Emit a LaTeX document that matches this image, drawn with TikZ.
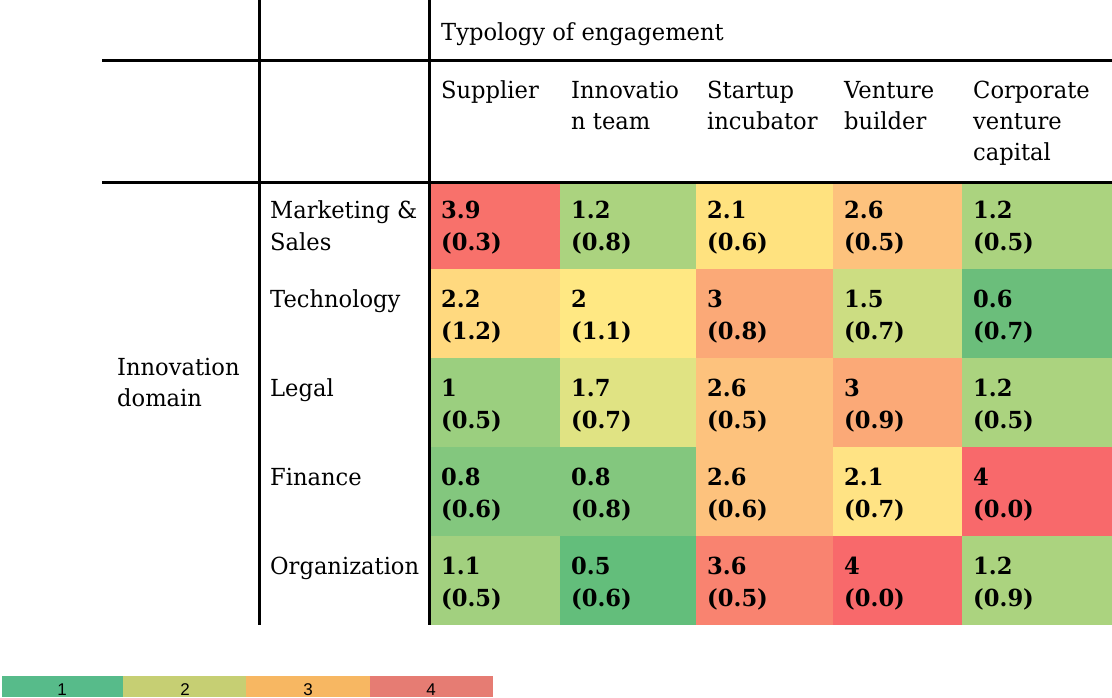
\documentclass[tikz,border=0pt]{standalone}
\usepackage{fontspec}
\setmainfont{DejaVu Serif}[FakeStretch=0.962]
\newfontfamily\legendfont{Liberation Sans}
\definecolor{cA}{HTML}{F8716B}
\definecolor{cB}{HTML}{ABD37F}
\definecolor{cC}{HTML}{FFE27F}
\definecolor{cD}{HTML}{FDC27D}
\definecolor{cE}{HTML}{FFD97F}
\definecolor{cF}{HTML}{FFE883}
\definecolor{cG}{HTML}{FBA977}
\definecolor{cH}{HTML}{CCDD82}
\definecolor{cI}{HTML}{6BBE7B}
\definecolor{cJ}{HTML}{9BCF7F}
\definecolor{cK}{HTML}{E0E383}
\definecolor{cL}{HTML}{83C77E}
\definecolor{cM}{HTML}{FFE384}
\definecolor{cN}{HTML}{F8696B}
\definecolor{cO}{HTML}{A2D07F}
\definecolor{cP}{HTML}{63BE7B}
\definecolor{cQ}{HTML}{F98370}
\definecolor{lgA}{HTML}{57BB8A}
\definecolor{lgB}{HTML}{C6CF73}
\definecolor{lgC}{HTML}{F7B762}
\definecolor{lgD}{HTML}{E67C73}
\begin{document}
\begin{tikzpicture}[x=1pt,y=-1pt,
  txt/.style={anchor=base west,inner sep=0pt,font=\fontsize{23.5}{28}\selectfont},
  val/.style={anchor=base west,inner sep=0pt,font=\fontsize{23.5}{28}\selectfont\bfseries},
  rulel/.style={line width=3pt},
  lg/.style={anchor=base,inner sep=0pt,font=\fontsize{17}{18}\legendfont}]
\useasboundingbox (0,0) rectangle (1112,697);
% cells
\def\colx{{429,560,696,833,962,1112}}
\def\rowy{{182,269,358,447,536,625}}
\foreach \r/\cols in {0/{cA,cB,cC,cD,cB},1/{cE,cF,cG,cH,cI},2/{cJ,cK,cD,cG,cB},3/{cL,cL,cD,cM,cN},4/{cO,cP,cQ,cN,cB}}{
  \foreach \cc [count=\c from 0] in \cols {
    \pgfmathsetmacro\xa{\colx[\c]}\pgfmathsetmacro\xb{\colx[\c+1]}
    \pgfmathsetmacro\ya{\rowy[\r]}\pgfmathsetmacro\yb{\rowy[\r+1]}
    \fill[\cc] (\xa,\ya) rectangle (\xb,\yb);
  }
}
% values
\foreach \r/\vals in {0/{3.9/0.3,1.2/0.8,2.1/0.6,2.6/0.5,1.2/0.5},
                      1/{2.2/1.2,2/1.1,3/0.8,1.5/0.7,0.6/0.7},
                      2/{1/0.5,1.7/0.7,2.6/0.5,3/0.9,1.2/0.5},
                      3/{0.8/0.6,0.8/0.8,2.6/0.6,2.1/0.7,4/0.0},
                      4/{1.1/0.5,0.5/0.6,3.6/0.5,4/0.0,1.2/0.9}}{
  \foreach \m/\s [count=\c from 0] in \vals {
    \pgfmathsetmacro\tx{{441,571,707,844,973}[\c]}
    \pgfmathsetmacro\ty{218+89*\r}
    \node[val] (m-\r-\c) at (\tx,\ty) {\m};
    \node[val] (s-\r-\c) at (\tx,\ty+32) {(\s)};
  }
}
% headers
\node[txt] (typ) at (441,40) {Typology of engagement};
\node[txt] (h1) at (441,98) {Supplier};
\node[txt] (h2a) at (571,98) {Innovatio};
\node[txt] (h2b) at (571,129) {n team};
\node[txt] (h3a) at (707,98) {Startup};
\node[txt] (h3b) at (707,129) {incubator};
\node[txt] (h4a) at (844,98) {Venture};
\node[txt] (h4b) at (844,129) {builder};
\node[txt] (h5a) at (973,98) {Corporate};
\node[txt] (h5b) at (973,129) {venture};
\node[txt] (h5c) at (973,160) {capital};
% row labels
\node[txt] (r1a) at (270,218) {Marketing\ \&};
\node[txt] (r1b) at (270,250) {Sales};
\node[txt] (r2) at (270,307) {Technology};
\node[txt] (r3) at (270,396) {Legal};
\node[txt] (r4) at (270,485) {Finance};
\node[txt] (r5) at (270,574) {Organization};
\node[txt] (dA) at (117,375) {Innovation};
\node[txt] (dB) at (117,406) {domain};
% rules
\draw[rulel] (102,60) -- (1112,60);
\draw[rulel] (102,182) -- (1112,182);
\draw[rulel] (259,0) -- (259,625);
\draw[rulel] (429,0) -- (429,625);
% legend
\fill[lgA] (2,676) rectangle (123,697);
\fill[lgB] (123,676) rectangle (246,697);
\fill[lgC] (246,676) rectangle (370,697);
\fill[lgD] (370,676) rectangle (493,697);
\node[lg] (l1) at (62,695.5) {1};
\node[lg] (l2) at (185,695.5) {2};
\node[lg] (l3) at (308,695.5) {3};
\node[lg] (l4) at (431,695.5) {4};
\end{tikzpicture}
\end{document}
